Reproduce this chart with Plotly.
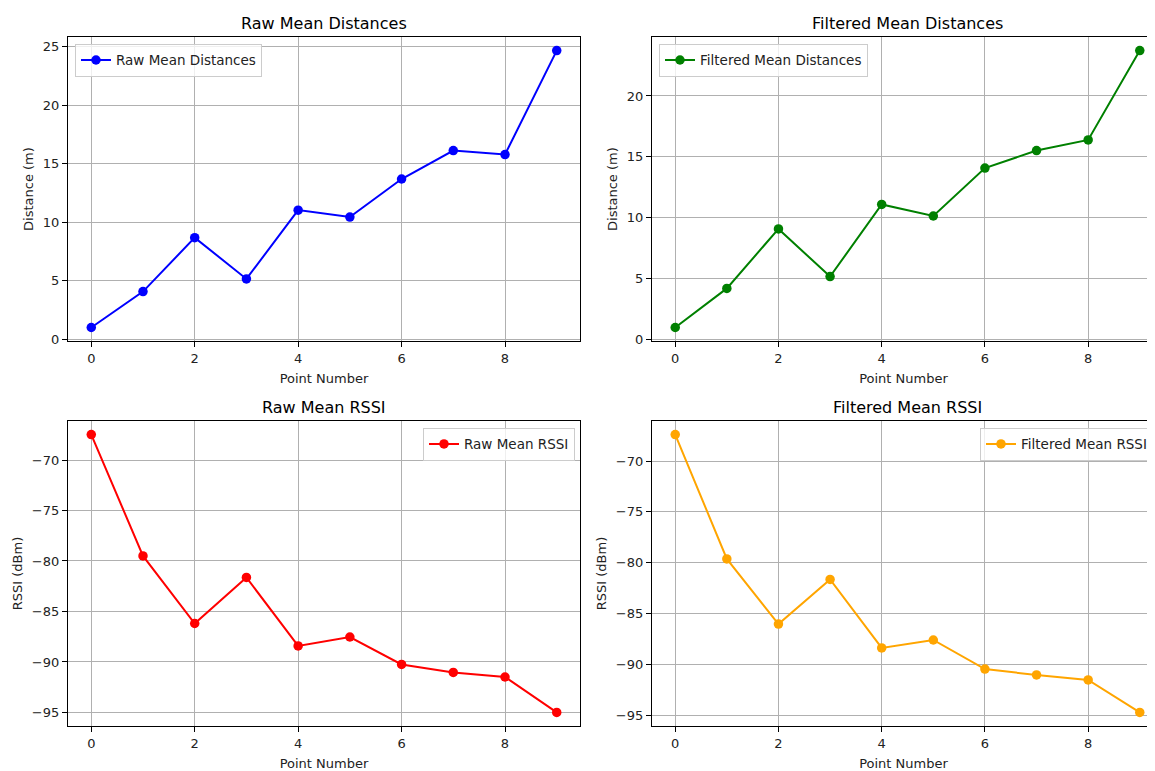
import plotly.graph_objects as go

points = list(range(10))
raw_dist = [1.0, 4.07, 8.68, 5.15, 11.03, 10.44, 13.69, 16.12, 15.78, 24.66]
filt_dist = [1.0, 4.21, 9.09, 5.18, 11.10, 10.15, 14.08, 15.52, 16.39, 23.72]
raw_rssi = [-67.48, -79.50, -86.19, -81.63, -88.41, -87.53, -90.25, -91.04, -91.49, -95.0]
filt_rssi = [-67.40, -79.62, -86.03, -81.64, -88.37, -87.59, -90.45, -91.03, -91.52, -94.71]

titles = ["Raw Mean Distances", "Filtered Mean Distances", "Raw Mean RSSI", "Filtered Mean RSSI"]
names = ["Raw Mean Distances", "Filtered Mean Distances", "Raw Mean RSSI", "Filtered Mean RSSI"]
colors = ["blue", "green", "red", "orange"]
ylabels = ["Distance (m)", "Distance (m)", "RSSI (dBm)", "RSSI (dBm)"]
series = [raw_dist, filt_dist, raw_rssi, filt_rssi]

OFF = 8  # page body margin
VW, VH = 1155, 771
W, H = VW - OFF, VH - OFF
FONT = "DejaVu Sans"

# viewport pixel boxes (left, right, top, bottom)
boxes = [(68, 580, 37, 344), (652, 1155, 37, 344), (68, 580, 424, 732), (652, 1155, 424, 732)]

def px(v):
    return (v - OFF) / W

def py(v):
    return 1 - (v - OFF) / H

def pad(vals):
    lo, hi = min(vals), max(vals)
    m = (hi - lo) * 0.05
    return [lo - m, hi + m]

fig = go.Figure()
layout = dict(width=W, height=H, margin=dict(l=0, r=0, t=0, b=0),
              plot_bgcolor="white", paper_bgcolor="white",
              font=dict(family=FONT, size=13, color="#222"), annotations=[])

legend_pos = [
    dict(x=px(75), y=py(44), xanchor="left", yanchor="top"),
    dict(x=px(659), y=py(44), xanchor="left", yanchor="top"),
    dict(x=px(575), y=py(431), xanchor="right", yanchor="top"),
    dict(x=px(980), y=py(431), xanchor="left", yanchor="top"),
]

for i in range(4):
    sfx = "" if i == 0 else str(i + 1)
    lg = "legend" if i == 0 else f"legend{i + 1}"
    fig.add_trace(go.Scatter(
        x=points, y=series[i], mode="lines+markers", name=names[i],
        line=dict(color=colors[i], width=2), marker=dict(color=colors[i], size=9.5),
        xaxis="x" + sfx, yaxis="y" + sfx, legend=lg, showlegend=True))
    l, r, t, b = boxes[i]
    full = r < VW
    xr = [-0.45, 9.45] if full else [-0.45, -0.45 + 9.9 * (r - l) / 511.0]
    yr = pad(series[i])
    common = dict(showgrid=True, gridcolor="#b0b0b0", gridwidth=1, zeroline=False,
                  showline=True, linecolor="black", linewidth=1.2,
                  ticks="outside", ticklen=5, tickcolor="black", tickwidth=1,
                  tickfont=dict(family=FONT, size=13, color="#222"))
    layout["xaxis" + sfx] = dict(common, domain=[px(l), min(px(r), 1.0)], range=xr,
                                 anchor="y" + sfx, tickvals=[0, 2, 4, 6, 8], mirror=True,
                                 title=dict(text="Point Number", font=dict(size=13), standoff=8))
    layout["yaxis" + sfx] = dict(common, domain=[py(b), py(t)], range=yr,
                                 anchor="x" + sfx, dtick=5, mirror=full,
                                 title=dict(text=ylabels[i], font=dict(size=13), standoff=6))
    layout[lg] = dict(legend_pos[i], bgcolor="rgba(255,255,255,0.8)", bordercolor="#cccccc",
                      borderwidth=1, font=dict(family=FONT, size=13.5, color="#222"),
                      itemwidth=30, tracegroupgap=0)
    cx = (l + (r if full else 1163)) / 2
    layout["annotations"].append(dict(text=titles[i], x=px(cx), y=py(t - 2),
                                      xref="paper", yref="paper",
                                      xanchor="center", yanchor="bottom", showarrow=False,
                                      font=dict(family=FONT, size=16, color="black")))

fig.update_layout(**layout)
fig.write_html("out.html")
